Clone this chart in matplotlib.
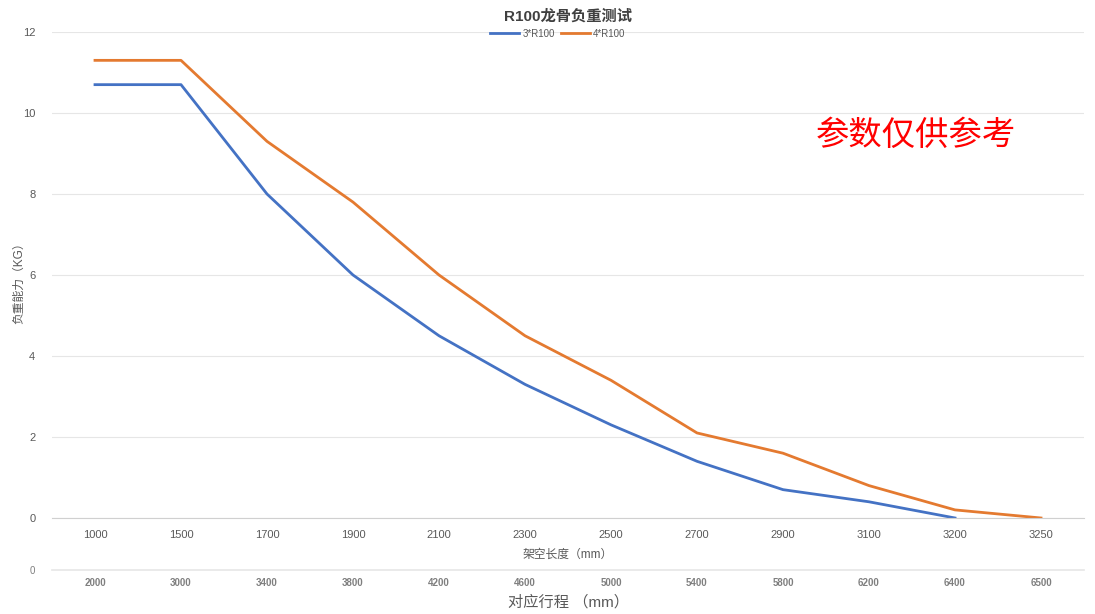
import numpy as np
import matplotlib
matplotlib.use("Agg")
import matplotlib.pyplot as plt

plt.rcParams['font.family'] = ['Liberation Sans', 'Noto Sans CJK SC', 'DejaVu Sans']

spans = ['1000', '1500', '1700', '1900', '2100', '2300', '2500', '2700', '2900', '3100', '3200', '3250']
strokes = ['2000', '3000', '3400', '3800', '4200', '4600', '5000', '5400', '5800', '6200', '6400', '6500']
load_3 = [10.7, 10.7, 8.0, 6.0, 4.5, 3.3, 2.3, 1.4, 0.7, 0.4, 0.0, np.nan]
load_4 = [11.3, 11.3, 9.3, 7.8, 6.0, 4.5, 3.4, 2.1, 1.6, 0.8, 0.2, 0.0]

W, H = 1095, 614
fig = plt.figure(figsize=(W / 100, H / 100), dpi=100)

left, right = 52 / W, 1084 / W
ax = fig.add_axes([left, 1 - 518 / H, right - left, (518 - 32) / H])
x = np.arange(len(spans))

ax.plot(x, load_3, color='#4472C4', lw=2.0, label='3*R100')
ax.plot(x, load_4, color='#E47A30', lw=2.0, label='4*R100')

ax.set_xlim(-0.5, len(spans) - 0.5)
ax.set_ylim(0, 12)
ax.set_yticks(range(0, 13, 2))
ax.set_xticks(x)
ax.set_xticklabels(spans)
ax.grid(axis='y', color='#E6E6E6', lw=0.8)
ax.set_axisbelow(True)
for s in ['top', 'right', 'left']:
    ax.spines[s].set_visible(False)
ax.spines['bottom'].set_color('#D0D0D0')
ax.tick_params(length=0, labelsize=8, colors='#595959')
ax.tick_params(axis='x', pad=9)
ax.tick_params(axis='y', pad=12)
ax.set_xlabel('架空长度（mm）', fontsize=8.5, color='#595959', labelpad=6)
ax.set_ylabel('负重能力（KG）', fontsize=8.5, color='#595959')
ax.yaxis.set_label_coords(-0.026, 0.49)

ax.set_title('R100龙骨负重测试', fontsize=11, fontweight='bold', color='#404040', pad=8)
ax.legend(loc='lower center', bbox_to_anchor=(0.49, 0.976), ncol=2, frameon=False,
          fontsize=7, handlelength=3, handletextpad=0.3, columnspacing=0.6,
          borderpad=0, labelcolor='#595959')

ax.text(0.837, 0.788, '参数仅供参考', transform=ax.transAxes, color='#FF0000',
        fontsize=24, ha='center', va='center', family=['Noto Sans CJK SC'])

# second category axis: stroke length
ax2 = fig.add_axes([left, 1 - 570 / H, right - left, 0.0001])
ax2.set_xlim(-0.5, len(strokes) - 0.5)
ax2.set_ylim(0, 1)
ax2.set_yticks([0])
ax2.set_xticks(x)
ax2.set_xticklabels(strokes, fontweight='bold')
for s in ['top', 'right', 'left']:
    ax2.spines[s].set_visible(False)
ax2.spines['bottom'].set_color('#E6E6E6')
ax2.spines['bottom'].set_linewidth(1.2)
ax2.tick_params(length=0, labelsize=7, colors='#7F7F7F')
ax2.tick_params(axis='x', pad=6)
ax2.tick_params(axis='y', pad=12)
ax2.set_xlabel('对应行程 （mm）', fontsize=11, color='#595959', labelpad=5)

fig.savefig('out.png', dpi=100)
